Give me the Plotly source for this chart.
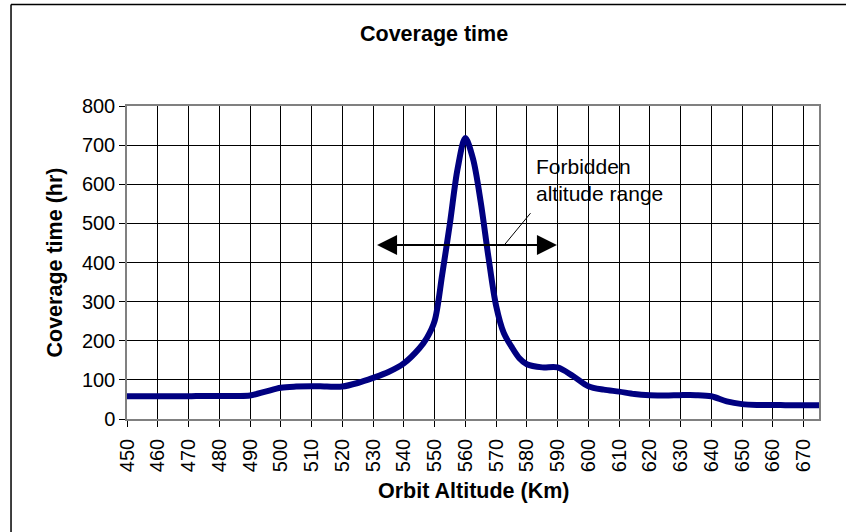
import plotly.graph_objects as go

# ---- data ----
altitude_km = [450, 455, 460, 465, 470, 475, 480, 485, 490, 495, 500, 505, 510, 515,
               520, 525, 530, 535, 540, 545, 547.5, 550, 552.5, 555, 557.5, 560, 562.5,
               565, 567.5, 570, 572.5, 575, 577.5, 580, 585, 590, 595, 600, 605, 610,
               615, 620, 625, 630, 635, 640, 645, 650, 655, 660, 665, 670, 675]
coverage_hr = [58, 58, 58, 58, 58, 59, 59, 59, 60, 70, 80, 83, 84, 83,
               83, 92, 105, 120, 142, 180, 207, 250, 370, 500, 640, 718, 665,
               555, 415, 290, 220, 185, 156, 140, 132, 132, 110, 84, 75, 70,
               64, 61, 60, 61, 61, 58, 45, 38, 36, 36, 35, 35, 35]

forbidden_range = [531.3, 589.8]
forbidden_arrow_y = 445
leader_start = [572.7, 445]
leader_end = [581.2, 526]
label_pos = [582.3, 611]
label_text = "Forbidden<br>altitude range"

FONT = "Arial, Liberation Sans, sans-serif"

fig = go.Figure()
fig.add_trace(go.Scatter(
    x=altitude_km, y=coverage_hr, mode="lines",
    line=dict(color="#000080", width=6, shape="spline", smoothing=0.9),
    hoverinfo="x+y", showlegend=False,
))

# double-headed arrow
fig.add_shape(type="line", xref="x", yref="y",
              x0=forbidden_range[0] + 2, x1=forbidden_range[1] - 2,
              y0=forbidden_arrow_y, y1=forbidden_arrow_y,
              line=dict(color="black", width=2))
for tip, off in [(forbidden_range[0], 30), (forbidden_range[1], -30)]:
    fig.add_annotation(x=tip, y=forbidden_arrow_y, ax=off, ay=0, text="",
                       showarrow=True, arrowhead=2, arrowsize=2, arrowwidth=2,
                       arrowcolor="black", standoff=0)
# leader line
fig.add_shape(type="line", xref="x", yref="y",
              x0=leader_start[0], y0=leader_start[1], x1=leader_end[0], y1=leader_end[1],
              line=dict(color="black", width=1))
fig.add_annotation(x=label_pos[0], y=label_pos[1], text=label_text, showarrow=False,
                   xanchor="left", yanchor="middle", align="left",
                   font=dict(family=FONT, size=21, color="black"))

# outer chart border (left & top visible)
fig.add_shape(type="line", xref="paper", yref="paper", x0=-0.1676, x1=-0.1676,
              y0=-0.5, y1=1.3246, line=dict(color="black", width=1.5))
fig.add_shape(type="line", xref="paper", yref="paper", x0=-0.1676, x1=1.2,
              y0=1.3246, y1=1.3246, line=dict(color="black", width=1.5))

# titles
TITLE_SIZE = 21.5
fig.add_annotation(xref="paper", yref="paper", x=(434 - 127) / 692, y=(419 - 34) / 313.3,
                   text="<b>Coverage time</b>", showarrow=False, xanchor="center",
                   yanchor="middle", font=dict(family=FONT, size=TITLE_SIZE, color="black"))
fig.add_annotation(xref="paper", yref="paper", x=0.5, y=(419 - 491) / 313.3,
                   text="<b>Orbit Altitude (Km)</b>", showarrow=False, xanchor="center",
                   yanchor="middle", font=dict(family=FONT, size=TITLE_SIZE, color="black"))
fig.add_annotation(xref="paper", yref="paper", x=(54 - 127) / 692, y=0.5,
                   text="<b>Coverage time (hr)</b>", showarrow=False, xanchor="center",
                   yanchor="middle", textangle=-90,
                   font=dict(family=FONT, size=TITLE_SIZE, color="black"))

fig.update_layout(
    width=846, height=532,
    margin=dict(l=127, r=27, t=106, b=113),
    paper_bgcolor="white", plot_bgcolor="white",
    font=dict(family=FONT, size=20, color="black"),
    showlegend=False,
)
fig.update_xaxes(range=[450, 675], tick0=450, dtick=10, tickangle=-90,
                 showgrid=True, gridcolor="black", gridwidth=1,
                 showline=True, linecolor="#808080", linewidth=1.5, mirror=True,
                 ticks="outside", ticklen=6, tickcolor="black", zeroline=False,
                 ticklabelstandoff=4,
                 tickfont=dict(family=FONT, size=20, color="black"))
fig.update_yaxes(range=[0, 800], tick0=0, dtick=100,
                 showgrid=True, gridcolor="black", gridwidth=1,
                 showline=True, linecolor="#808080", linewidth=1.5, mirror=True,
                 ticks="outside", ticklen=6, tickcolor="black", zeroline=False,
                 tickfont=dict(family=FONT, size=20, color="black"))

fig.write_html("out.html")
